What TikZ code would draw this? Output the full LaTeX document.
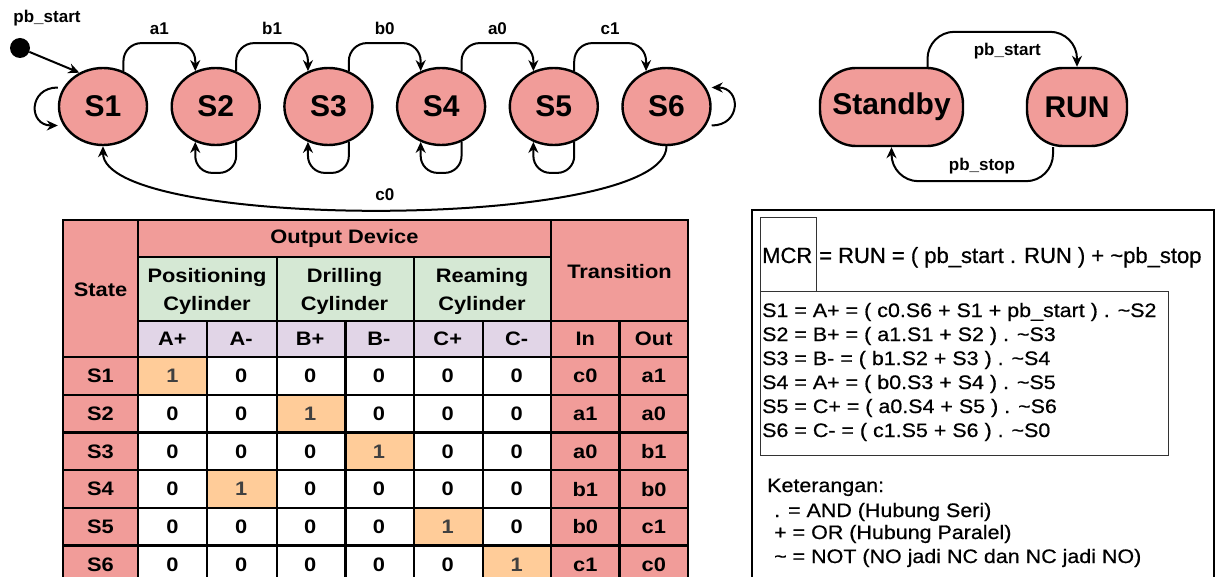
\documentclass[tikz,border=0pt]{standalone}
\usepackage{fontspec}
\setmainfont{Liberation Sans}
\newfontfamily\tabfont[FakeStretch=1.12]{Liberation Sans}
\newfontfamily\eqfont[FakeStretch=1.1,FakeBold=0.6]{Liberation Sans}
\newfontfamily\mcrfont[FakeBold=0.6]{Liberation Sans}
\usetikzlibrary{shapes.geometric,arrows.meta,calc}

\definecolor{statefill}{HTML}{F19C99}
\definecolor{grpfill}{HTML}{D5E8D4}
\definecolor{subfill}{HTML}{E1D5E7}
\definecolor{onfill}{HTML}{FFCC99}

\begin{document}
\begin{tikzpicture}[x=1pt,y=-1pt,
  stnode/.style={ellipse, draw, line width=2.4pt, fill=statefill,
    minimum width=88pt, minimum height=77pt, inner sep=0pt,
    font=\fontsize{30}{36}\selectfont\bfseries},
  modenode/.style={rectangle, rounded corners=36pt, draw, line width=2.4pt,
    fill=statefill, minimum height=78pt, inner sep=0pt,
    font=\fontsize{30}{36}\selectfont\bfseries},
  arr/.style={-{Stealth[length=11pt,width=10pt]}, line width=2pt},
  lbl/.style={font=\fontsize{17}{20}\selectfont\bfseries, inner sep=0pt},
  tcell/.style={font=\tabfont\bfseries\fontsize{19.5}{28}\selectfont,
    inner sep=0pt, align=center},
  eq/.style={font=\eqfont\fontsize{19.5}{24}\selectfont, inner sep=0pt,
    anchor=base west},
  mcrtext/.style={font=\mcrfont\fontsize{22}{26}\selectfont, inner sep=0pt,
    anchor=base west},
  tline/.style={line width=2.2pt},
  thinbox/.style={line width=1pt, draw=black!80}
]
\useasboundingbox (0,0) rectangle (1215,577);
\clip (0,0) rectangle (1215,577);

% ---------------- sequence state machine ----------------
\node[stnode] (S1) at (103,106.5)   {S1};
\node[stnode] (S2) at (215.7,106.5) {S2};
\node[stnode] (S3) at (328.4,106.5) {S3};
\node[stnode] (S4) at (441.1,106.5) {S4};
\node[stnode] (S5) at (553.8,106.5) {S5};
\node[stnode] (S6) at (666.5,106.5) {S6};

% initial pseudo state
\node[circle, fill=black, minimum size=20pt, inner sep=0pt] (init) at (20,48) {};
\node[lbl] (initlbl) at (47,18) {pb\_start};
\draw[arr] (init) -- (S1.125);

% forward transitions
\foreach \a/\b/\t in {S1/S2/a1, S2/S3/b1, S3/S4/b0, S4/S5/a0, S5/S6/c1}{
  \draw[arr, rounded corners=18pt] (\a.60) -- ++(0,-28)
    -| node[lbl, pos=0.25, above=7pt] (l\a) {\t} (\b.120);
}

% holding loops
\draw[arr] ([yshift=19pt]S1.west) to[out=180, in=180, looseness=2] ([yshift=-19pt]S1.west);
\foreach \s in {S2,S3,S4,S5}{
  \draw[arr, rounded corners=17pt] (\s.-60) -- ++(0,31) -| (\s.-120);
}
\draw[arr] ([yshift=-19pt]S6.east) to[out=0, in=0, looseness=2] ([yshift=19pt]S6.east);

% return to the first step
\draw[arr] (S6.south) .. controls +(0,85) and +(0,85) ..
  node[lbl, pos=0.5, above=8pt] (lc0) {c0} (S1.south);

% ---------------- master control relay ----------------
\node[modenode, minimum width=143pt] (Standby) at (891.5,107) {Standby};
\node[modenode, minimum width=100pt] (RUN) at (1077,107) {RUN};
\draw[arr, rounded corners=27pt] ([xshift=36pt]Standby.north) -- ++(0,-35)
  -| node[lbl, pos=0.267, below=10pt] (lstart) {pb\_start} (RUN.north);
\draw[arr, rounded corners=27pt] ([xshift=-24pt]RUN.south) -- ++(0,34)
  -| node[lbl, pos=0.22, above=6pt] (lstop) {pb\_stop} (Standby.south);

% ---------------- output table ----------------
\fill[statefill] (63,220) rectangle (138,590);
\fill[statefill] (138,220) rectangle (551,257);
\fill[statefill] (551,220) rectangle (688,590);
\fill[grpfill] (138,257) rectangle (551,321);
\fill[subfill] (138,321) rectangle (551,357);
\fill[white] (138,357) rectangle (551,590);

\node[tcell] (hstate) at (100.5,290) {State};
\node[tcell] (hout) at (344.5,238) {Output Device};
\node[tcell] (hpos) at (207,291) {Positioning\\Cylinder};
\node[tcell] (hdrl) at (344.5,291) {Drilling\\Cylinder};
\node[tcell] (hrea) at (482,291) {Reaming\\Cylinder};
\node[tcell] (htrans) at (619.5,272) {Transition};
\foreach \c/\t in {1/A+, 2/A-, 3/B+, 4/B-, 5/C+, 6/C-}{
  \node[tcell] (h\c) at ({103.58+68.833*\c},339) {\t};
}
\node[tcell] (hin) at (585.25,339) {In};
\node[tcell] (hot) at (653.75,339) {Out};

\foreach \r/\lab/\hi/\tin/\tout [evaluate=\r as \yc using 376+37.7*\r] in
  {0/S1/1/c0/a1, 1/S2/3/a1/a0, 2/S3/4/a0/b1, 3/S4/2/b1/b0, 4/S5/5/b0/c1, 5/S6/6/c1/c0}{
  \fill[onfill] ({138+68.833*(\hi-1)},{357+37.7*\r}) rectangle ++(68.833,37.7);
  \node[tcell] (st\r) at (100.5,\yc) {\lab};
  \foreach \c in {1,...,6}{
    \ifnum\c=\hi
      \node[tcell, text=black!75] (v\r\c) at ({103.58+68.833*\c},\yc) {1};
    \else
      \node[tcell] (v\r\c) at ({103.58+68.833*\c},\yc) {0};
    \fi
  }
  \node[tcell] (in\r) at (585.25,\yc) {\tin};
  \node[tcell] (out\r) at (653.75,\yc) {\tout};
}

% table rules
\draw[tline] (138,220) -- (138,590);
\draw[tline] (551,220) -- (551,590);
\draw[tline] (138,257) -- (551,257);
\draw[tline] (276.67,257) -- (276.67,590);
\draw[tline] (414.33,257) -- (414.33,590);
\draw[tline] (138,321) -- (688,321);
\foreach \k in {206.83,345.5,483.17,619.5}{
  \draw[tline] (\k,321) -- (\k,590);
}
\foreach \k in {0,...,5}{
  \draw[tline] (63,{357+37.7*\k}) -- (688,{357+37.7*\k});
}
\draw[line width=2.6pt] (63,220) rectangle (688,600);

% ---------------- logic equations ----------------
\draw[line width=2.2pt] (752,210) rectangle (1214,600);
\draw[thinbox] (760,218) rectangle (816,292);
\draw[thinbox] (760,292) rectangle (1168,455);
\node[mcrtext] (mcr) at (762,263) {MCR};
\node[mcrtext] (mcreq) at (819,263)
  {= RUN = ( pb\_start . RUN ) + \textasciitilde pb\_stop};
\node[eq] (e1) at (762,317) {S1 = A+ = ( c0.S6 + S1 + pb\_start ) . \textasciitilde S2};
\node[eq] (e2) at (762,341) {S2 = B+ = ( a1.S1 + S2 ) . \textasciitilde S3};
\node[eq] (e3) at (762,365) {S3 = B- = ( b1.S2 + S3 ) . \textasciitilde S4};
\node[eq] (e4) at (762,389) {S4 = A+ = ( b0.S3 + S4 ) . \textasciitilde S5};
\node[eq] (e5) at (762,413) {S5 = C+ = ( a0.S4 + S5 ) . \textasciitilde S6};
\node[eq] (e6) at (762,437) {S6 = C- = ( c1.S5 + S6 ) . \textasciitilde S0};
\node[eq] (k0) at (767,492) {Keterangan:};
\node[eq] (k1) at (774,517) {. = AND (Hubung Seri)};
\node[eq] (k2) at (774,539) {+ = OR (Hubung Paralel)};
\node[eq] (k3) at (774,563) {\textasciitilde\ = NOT (NO jadi NC dan NC jadi NO)};
\end{tikzpicture}
\end{document}
